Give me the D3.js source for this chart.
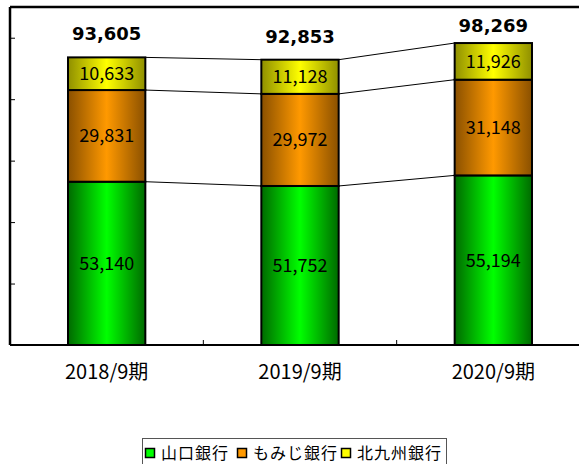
<!DOCTYPE html>
<html>
<head>
<meta charset="utf-8">
<script src="https://cdn.jsdelivr.net/npm/d3@7"></script>
<style>
  body { margin: 0; background: #fff; }
  svg { display: block; }
</style>
</head>
<body>
<div id="chart"></div>
<script>
// data
const periods = ["2018/9期", "2019/9期", "2020/9期"];
const banks = ["山口銀行", "もみじ銀行", "北九州銀行"];
const yamaguchi = [53140, 51752, 55194];
const momiji = [29831, 29972, 31148];
const kitakyushu = [10633, 11128, 11926];
const totals = [93605, 92853, 98269];
const yTicks = [0, 20000, 40000, 60000, 80000, 100000];

const W = 579, H = 464;
const svg = d3.select("#chart").append("svg").attr("width", W).attr("height", H);

// gradients (dark edges, bright middle)
const colors = {
    "山口銀行": ["#006a00", "#00ff00"],
    "もみじ銀行": ["#8a5000", "#ff9900"],
    "北九州銀行": ["#8f8f00", "#ffff00"]
};
const defs = svg.append("defs");
banks.forEach((b, i) => {
    const g = defs.append("linearGradient").attr("id", "grad" + i)
        .attr("x1", "0%").attr("x2", "100%").attr("y1", "0%").attr("y2", "0%");
    g.append("stop").attr("offset", "0%").attr("stop-color", colors[b][0]);
    g.append("stop").attr("offset", "50%").attr("stop-color", colors[b][1]);
    g.append("stop").attr("offset", "100%").attr("stop-color", colors[b][0]);
});

const plotLeft = 10, plotRight = 590, plotTop = 7, plotBottom = 345;

const x = d3.scaleBand().domain(periods).range([plotLeft, plotRight]).paddingInner(0.6).paddingOuter(0.3);
const y = d3.scaleLinear().domain([0, 110000]).range([plotBottom, plotTop]);

// stack
const rows = periods.map((p, i) => ({
    period: p,
    "山口銀行": yamaguchi[i],
    "もみじ銀行": momiji[i],
    "北九州銀行": kitakyushu[i]
}));
const series = d3.stack().keys(banks)(rows);

// connector lines between bars (top of each segment)
series.forEach(s => {
    for (let i = 0; i < s.length - 1; i++) {
        svg.append("line")
            .attr("x1", x(periods[i]) + x.bandwidth())
            .attr("y1", y(s[i][1]))
            .attr("x2", x(periods[i + 1]))
            .attr("y2", y(s[i + 1][1]))
            .attr("stroke", "#000")
            .attr("stroke-width", 1);
    }
});

// bars
series.forEach((s, si) => {
    svg.append("g").selectAll("rect")
        .data(s)
        .enter()
        .append("rect")
        .attr("x", d => x(d.data.period))
        .attr("y", d => y(d[1]))
        .attr("width", x.bandwidth())
        .attr("height", d => y(d[0]) - y(d[1]))
        .attr("fill", `url(#grad${si})`)
        .attr("stroke", "#000")
        .attr("stroke-width", 2);

    svg.append("g").selectAll("text")
        .data(s)
        .enter()
        .append("text")
        .attr("x", d => x(d.data.period) + x.bandwidth() / 2)
        .attr("y", d => (y(d[0]) + y(d[1])) / 2)
        .attr("dy", "0.36em")
        .attr("text-anchor", "middle")
        .attr("font-family", "'Noto Sans CJK JP', sans-serif")
        .attr("font-size", 18)
        .attr("fill", "#000")
        .text(d => d3.format(",")(d[1] - d[0]));
});

// totals above bars
svg.append("g").selectAll("text")
    .data(totals)
    .enter()
    .append("text")
    .attr("x", (d, i) => x(periods[i]) + x.bandwidth() / 2)
    .attr("y", d => Math.max(y(d) - 17, 32))
    .attr("text-anchor", "middle")
    .attr("font-family", "'DejaVu Sans', sans-serif")
    .attr("font-weight", "bold")
    .attr("font-size", 18)
    .attr("fill", "#000")
    .text(d => d3.format(",")(d));

// axes
const yAxis = svg.append("g")
    .attr("transform", `translate(${plotLeft},0)`)
    .call(d3.axisRight(y).tickValues(yTicks).tickSize(5).tickFormat(""));
yAxis.select(".domain").remove();
yAxis.selectAll(".tick line").attr("stroke", "#000").attr("stroke-width", 1);

svg.append("line").attr("x1", plotLeft).attr("x2", plotLeft).attr("y1", plotTop).attr("y2", plotBottom)
    .attr("stroke", "#000").attr("stroke-width", 2.5);
svg.append("line").attr("x1", plotLeft).attr("x2", W).attr("y1", plotTop).attr("y2", plotTop)
    .attr("stroke", "#000").attr("stroke-width", 2.5);
svg.append("line").attr("x1", plotLeft).attr("x2", W).attr("y1", plotBottom).attr("y2", plotBottom)
    .attr("stroke", "#000").attr("stroke-width", 2);

// x category boundary ticks
const step = x.step();
svg.append("g").selectAll("line")
    .data(periods.slice(1))
    .enter()
    .append("line")
    .attr("x1", d => x(d) - step * x.paddingInner() / 2)
    .attr("x2", d => x(d) - step * x.paddingInner() / 2)
    .attr("y1", plotBottom - 5).attr("y2", plotBottom)
    .attr("stroke", "#000");

const xAxis = svg.append("g")
    .attr("transform", `translate(0,${plotBottom})`)
    .call(d3.axisBottom(x).tickSize(0).tickPadding(20));
xAxis.select(".domain").remove();
xAxis.selectAll("text")
    .attr("font-family", "'Noto Sans CJK JP', sans-serif")
    .attr("font-size", 20)
    .attr("fill", "#000");

// legend
const legend = svg.append("g");
legend.append("rect")
    .attr("x", 142.5).attr("y", 438.5).attr("width", 304).attr("height", 30)
    .attr("fill", "#fff").attr("stroke", "#555").attr("stroke-width", 1);
const legendX = [145, 237, 341];
banks.forEach((b, i) => {
    legend.append("rect")
        .attr("x", legendX[i] + 0.5).attr("y", 448.5)
        .attr("width", 9).attr("height", 9)
        .attr("fill", colors[b][1]).attr("stroke", "#000").attr("stroke-width", 1.5);
    legend.append("text")
        .attr("x", legendX[i] + 16).attr("y", 453)
        .attr("dy", "0.36em")
        .attr("font-family", "'Noto Sans CJK JP', sans-serif")
        .attr("font-size", 16)
        .attr("letter-spacing", 1)
        .attr("fill", "#000")
        .text(b);
});
</script>
</body>
</html>
